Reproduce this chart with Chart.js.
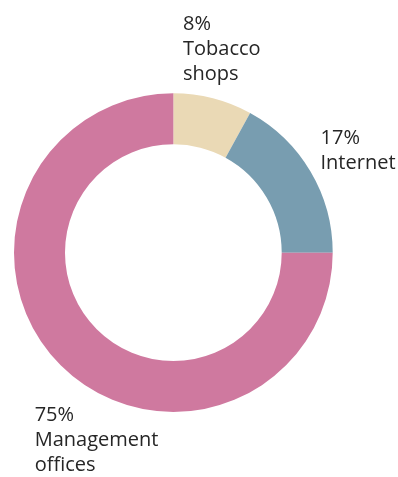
<!DOCTYPE html>
<html>
<head>
<meta charset="utf-8">
<script src="https://cdn.jsdelivr.net/npm/chart.js@4.4.0/dist/chart.umd.min.js"></script>
<style>
  body { margin: 0; background: #fff; }
  #wrap { width: 398px; height: 477px; }
</style>
</head>
<body>
<div id="wrap"><canvas id="pie" width="398" height="477"></canvas></div>
<script>
const categories = ["Tobacco shops", "Internet", "Management offices"];
const shares = [8, 17, 75];
const labelLines = [["8%", "Tobacco", "shops"], ["17%", "Internet"], ["75%", "Management", "offices"]];
const sliceColors = ["#EAD9B5", "#789DB0", "#CF799F"];
// where each label's first baseline sits, relative to the slice's outer mid point
const labelOffsets = [[-30, -68], [10, -27.5], [-26, 56]];

// draws the multi-line labels next to each slice
const sliceLabels = {
    id: 'sliceLabels',
    afterDraw(chart) {
        const ctx = chart.ctx;
        const arcs = chart.getDatasetMeta(0).data;
        ctx.save();
        ctx.font = '20px "Open Sans", sans-serif';
        ctx.fillStyle = '#262626';
        ctx.textAlign = 'left';
        ctx.textBaseline = 'alphabetic';
        arcs.forEach((arc, i) => {
            const p = arc.getProps(['x', 'y', 'startAngle', 'endAngle', 'outerRadius'], true);
            const mid = (p.startAngle + p.endAngle) / 2;
            const ax = p.x + Math.cos(mid) * p.outerRadius;
            const ay = p.y + Math.sin(mid) * p.outerRadius;
            labelLines[i].forEach((line, j) => {
                ctx.fillText(line, ax + labelOffsets[i][0], ay + labelOffsets[i][1] + j * 25);
            });
        });
        ctx.restore();
    }
};

new Chart(document.getElementById('pie'), {
    type: 'doughnut',
    data: {
        labels: categories,
        datasets: [{
            data: shares,
            backgroundColor: sliceColors,
            borderWidth: 0
        }]
    },
    options: {
        responsive: false,
        animation: false,
        cutout: '68%',
        layout: {
            padding: { left: 14, right: 65.3, top: 93.3, bottom: 65 }
        },
        plugins: {
            legend: { display: false },
            tooltip: { enabled: false }
        }
    },
    plugins: [sliceLabels]
});
</script>
</body>
</html>
